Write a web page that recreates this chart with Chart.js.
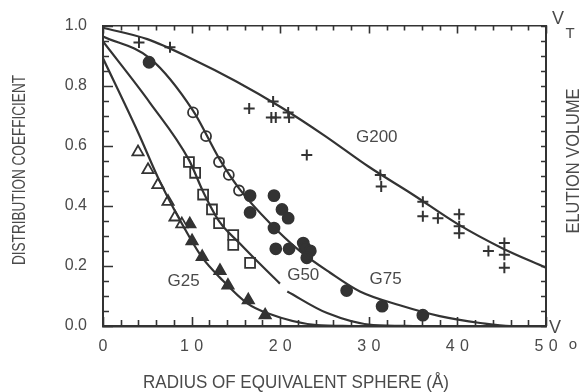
<!DOCTYPE html>
<html>
<head>
<meta charset="utf-8">
<script src="https://cdn.jsdelivr.net/npm/chart.js@4.4.1/dist/chart.umd.min.js"></script>
<style>
  html, body { margin: 0; padding: 0; background: #fff; }
  #wrap { width: 585px; height: 392px; }
</style>
</head>
<body>
<div id="wrap"><canvas id="gel" width="585" height="392"></canvas></div>
<script>
// curves: [radius, Kd]
const g200Curve = [[0, 0.993], [5, 0.955], [10, 0.89], [15, 0.815], [20, 0.73], [25, 0.634], [30, 0.53], [35, 0.437], [40, 0.34], [45, 0.26], [50, 0.194]];
const g75Curve = [[0, 0.964], [5.3, 0.891], [10.16, 0.717], [13.2, 0.553], [15.46, 0.454], [18.85, 0.342], [22.2, 0.25], [25.6, 0.178], [29, 0.115], [33.5, 0.069], [38, 0.033], [42.6, 0.01], [46, 0], [50, 0]];
const g50Curve = [[0, 0.947], [5.3, 0.743], [9.7, 0.553], [11.3, 0.447], [13.1, 0.349], [15.5, 0.273], [17.7, 0.207], [19.97, 0.141], [20.4, null], [20.8, 0.115], [25.3, 0.043], [30.5, 0.003], [35, 0]];
const g25Curve = [[0, 0.891], [3.95, 0.645], [6.43, 0.48], [9.82, 0.293], [11.29, 0.224], [13.2, 0.161], [16.25, 0.076], [18.5, 0.043], [24.1, 0.003], [28, 0]];

// measured points
const crossPts = [[4.06, 0.944], [7.56, 0.928], [16.5, 0.724], [19.2, 0.747], [19.0, 0.694], [19.5, 0.694], [20.9, 0.711], [21.0, 0.694], [23.0, 0.569], [31.3, 0.503], [31.4, 0.464], [36.1, 0.414], [36.1, 0.365], [37.8, 0.359], [40.2, 0.372], [40.2, 0.332], [40.2, 0.309], [43.5, 0.25], [45.3, 0.276], [45.3, 0.237], [45.3, 0.194]];
const openCirclePts = [[10.16, 0.711], [11.63, 0.632], [13.09, 0.546], [14.2, 0.503], [15.35, 0.451]];
const dotPts = [[5.2, 0.878], [16.6, 0.434], [16.6, 0.378], [19.3, 0.434], [20.2, 0.388], [20.9, 0.359], [19.3, 0.326], [19.5, 0.257], [21.0, 0.257], [22.6, 0.276], [22.8, 0.26], [23.4, 0.25], [23.0, 0.227], [27.5, 0.118], [31.5, 0.066], [36.1, 0.036]];
const squarePts = [[9.7, 0.546], [10.4, 0.51], [11.3, 0.4375], [12.3, 0.388], [13.1, 0.342], [14.7, 0.303], [14.7, 0.27], [16.6, 0.21]];
const openTriPts = [[3.95, 0.579], [5.08, 0.52], [6.2, 0.47], [7.34, 0.414], [8.13, 0.362], [8.9, 0.339]];
const fillTriPts = [[9.8, 0.339], [10.05, 0.283], [11.2, 0.23], [13.2, 0.184], [14.1, 0.135], [16.4, 0.086], [18.3, 0.036]];

// curve names and where they sit
const curveNames = ["G200", "G75", "G50", "G25"];
const curveNameX = [30.9, 31.9, 22.6, 9.1];
const curveNameY = [0.628, 0.155, 0.168, 0.148];

const ink = "#333";
const textInk = "#4a4a4a";
const font = "'Liberation Sans', Arial, sans-serif";

const toXY = (arr) => arr.map(([x, y]) => ({ x, y }));

const curve = (arr) => ({
  data: toXY(arr),
  borderColor: ink,
  borderWidth: 2.2,
  pointRadius: 0,
  cubicInterpolationMode: "monotone",
  spanGaps: false,
  fill: false,
});

const marks = (arr, style, radius, filled) => ({
  data: toXY(arr),
  showLine: false,
  pointStyle: style,
  pointRadius: radius,
  pointBorderColor: ink,
  pointBackgroundColor: filled ? ink : "#fff",
  pointBorderWidth: style === "cross" ? 2 : 1.8,
});

// inward tick marks on all four sides + text that Chart.js can't place
const frame = {
  id: "frame",
  afterDraw(chart) {
    const { ctx, chartArea: a } = chart;
    const xs = chart.scales.x, ys = chart.scales.y;
    ctx.save();
    ctx.strokeStyle = ink;
    ctx.lineWidth = 1.6;
    ctx.beginPath();
    for (let v = 0; v <= 50; v += 2) {
      const px = Math.round(xs.getPixelForValue(v)) + 0.5;
      const major = v % 10 === 0;
      ctx.moveTo(px, a.bottom); ctx.lineTo(px, a.bottom - (major ? 9 : 6));
      ctx.moveTo(px, a.top); ctx.lineTo(px, a.top + (major ? 8 : 5));
    }
    for (let i = 0; i <= 20; i++) {
      const py = Math.round(ys.getPixelForValue(i * 0.05)) + 0.5;
      const major = i % 4 === 0;
      ctx.moveTo(a.left, py); ctx.lineTo(a.left + (major ? 10 : 6), py);
      ctx.moveTo(a.right, py); ctx.lineTo(a.right - 5, py);
    }
    ctx.stroke();

    ctx.fillStyle = textInk;
    ctx.textAlign = "center";
    ctx.textBaseline = "middle";
    ctx.font = "17px " + font;
    curveNames.forEach((name, i) => {
      ctx.fillText(name, xs.getPixelForValue(curveNameX[i]), ys.getPixelForValue(curveNameY[i]));
    });

    const fitText = (str, x, y, size, len, rot) => {
      ctx.save();
      ctx.font = size + "px " + font;
      ctx.translate(x, y);
      ctx.rotate(rot);
      ctx.scale(len / ctx.measureText(str).width, 1);
      ctx.fillText(str, 0, 0);
      ctx.restore();
    };
    fitText("DISTRIBUTION COEFFICIENT", 20, 170, 18, 190, -Math.PI / 2);
    fitText("ELUTION VOLUME", 574, 161, 18, 145, -Math.PI / 2);
    fitText("RADIUS OF EQUIVALENT SPHERE (Å)", 296, 383, 19, 306, 0);

    ctx.font = "18px " + font;
    ctx.fillText("V", 558, 19);
    ctx.fillText("V", 555, 328);
    ctx.font = "15px " + font;
    ctx.fillText("T", 570, 34);
    ctx.fillText("o", 573, 345);
    ctx.restore();
  },
};

new Chart(document.getElementById("gel"), {
  type: "line",
  data: {
    datasets: [
      curve(g200Curve),
      curve(g75Curve),
      curve(g50Curve),
      curve(g25Curve),
      marks(crossPts, "cross", 5.5, false),
      marks(openCirclePts, "circle", 5, false),
      marks(dotPts, "circle", 5.5, true),
      marks(squarePts, "rect", 7, false),
      marks(openTriPts, "triangle", 6.5, false),
      marks(fillTriPts, "triangle", 6.5, true),
    ],
  },
  options: {
    responsive: false,
    animation: false,
    layout: { padding: 0 },
    plugins: { legend: { display: false }, tooltip: { enabled: false } },
    scales: {
      x: {
        type: "linear",
        position: "bottom",
        min: 0,
        max: 50,
        afterFit: (s) => { s.height = 66; },
        grid: { drawOnChartArea: false, drawTicks: false },
        border: { color: ink, width: 2.5 },
        ticks: {
          stepSize: 10,
          padding: 11,
          color: textInk,
          font: { family: font, size: 16 },
          callback: (v) => String(v).split("").join("\u2004"),
        },
      },
      xTop: {
        type: "linear",
        position: "top",
        min: 0,
        max: 50,
        afterFit: (s) => { s.height = 22; },
        grid: { drawOnChartArea: false, drawTicks: false },
        border: { color: ink, width: 1.6 },
        ticks: { display: false },
      },
      y: {
        type: "linear",
        position: "left",
        min: 0,
        max: 1,
        afterFit: (s) => { s.width = 103; },
        grid: { drawOnChartArea: false, drawTicks: false },
        border: { color: ink, width: 2 },
        ticks: {
          stepSize: 0.2,
          padding: 16,
          color: textInk,
          font: { family: font, size: 16 },
          callback: (v) => v.toFixed(1),
        },
      },
      yRight: {
        type: "linear",
        position: "right",
        min: 0,
        max: 1,
        afterFit: (s) => { s.width = 39; },
        grid: { drawOnChartArea: false, drawTicks: false },
        border: { color: ink, width: 2 },
        ticks: { display: false },
      },
    },
  },
  plugins: [frame],
});
</script>
</body>
</html>
